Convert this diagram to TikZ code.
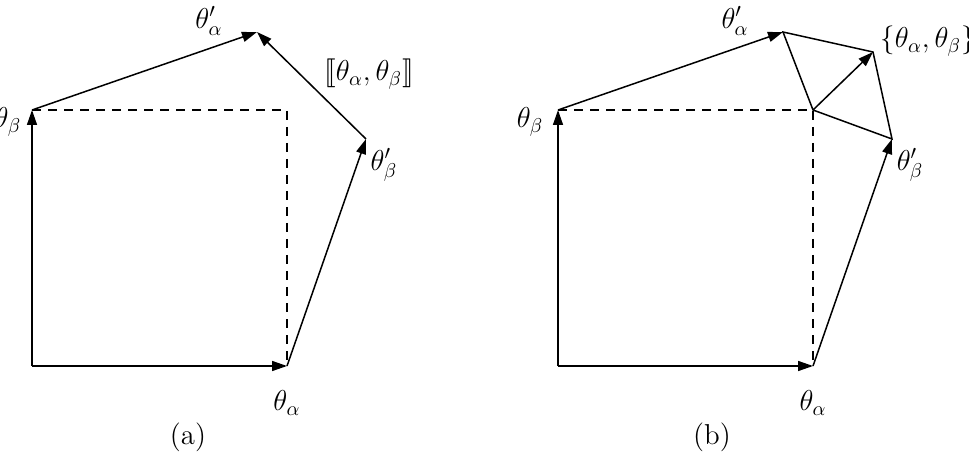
\documentclass[tikz,border=0pt]{standalone}
\usepackage{stmaryrd}
\usetikzlibrary{arrows.meta, positioning}
\tikzset{
  >={Triangle[length=7.5pt, width=5pt]},
  vec/.style={->, line width=0.75pt},
  edge/.style={line width=0.75pt},
  proj/.style={dash pattern=on 4.5pt off 3.5pt, line width=0.6pt},
  lbl/.style={inner sep=1pt, font=\Large},
}

\begin{document}
\begin{tikzpicture}[x=0.5pt, y=-0.5pt]
  \useasboundingbox (0,0) rectangle (969,454);
  % (a) the bracket closes the path
  \coordinate (oa) at (32,366);
  \coordinate (aa) at (287,366);
  \coordinate (ba) at (32,110);
  \coordinate (pa) at (287,110);
  \coordinate (ca) at (366,139);
  \coordinate (da) at (257,32);
  \draw[proj] (ba) -- (pa) -- (aa);
  \draw[vec] (oa) -- (aa);
  \draw[vec] (oa) -- (ba);
  \draw[vec] (aa) -- (ca);
  \draw[vec] (ba) -- (da);
  \draw[vec] (ca) -- (da);
  \node[lbl] (laa) at (287,403) {$\theta_\alpha$};
  \node[lbl] (lba) at (8,122) {$\theta_\beta$};
  \node[lbl] (lca) at (384,165) {$\theta'_\beta$};
  \node[lbl] (lda) at (209,21) {$\theta'_\alpha$};
  \node[lbl] (lbr) at (369,74) {$\llbracket\theta_\alpha,\theta_\beta\rrbracket$};
  \node[lbl] (capa) at (188,437) {(a)};
  % (b) the anticommutator
  \coordinate (ob) at (558,366);
  \coordinate (ab) at (813,366);
  \coordinate (bb) at (558,110);
  \coordinate (pb) at (813,110);
  \coordinate (cb) at (892,139);
  \coordinate (db) at (783,32);
  \coordinate (eb) at (873,52);
  \draw[proj] (bb) -- (pb) -- (ab);
  \draw[edge] (db) -- (eb) -- (cb) -- (pb) -- cycle;
  \draw[vec] (ob) -- (ab);
  \draw[vec] (ob) -- (bb);
  \draw[vec] (ab) -- (cb);
  \draw[vec] (bb) -- (db);
  \draw[vec] (pb) -- (eb);
  \node[lbl] (lab) at (813,403) {$\theta_\alpha$};
  \node[lbl] (lbb) at (530,122) {$\theta_\beta$};
  \node[lbl] (lcb) at (910,165) {$\theta'_\beta$};
  \node[lbl] (ldb) at (735,21) {$\theta'_\alpha$};
  \node[lbl] (lac) at (928,41) {$\{\theta_\alpha,\theta_\beta\}$};
  \node[lbl] (capb) at (712,437) {(b)};
\end{tikzpicture}
\end{document}
